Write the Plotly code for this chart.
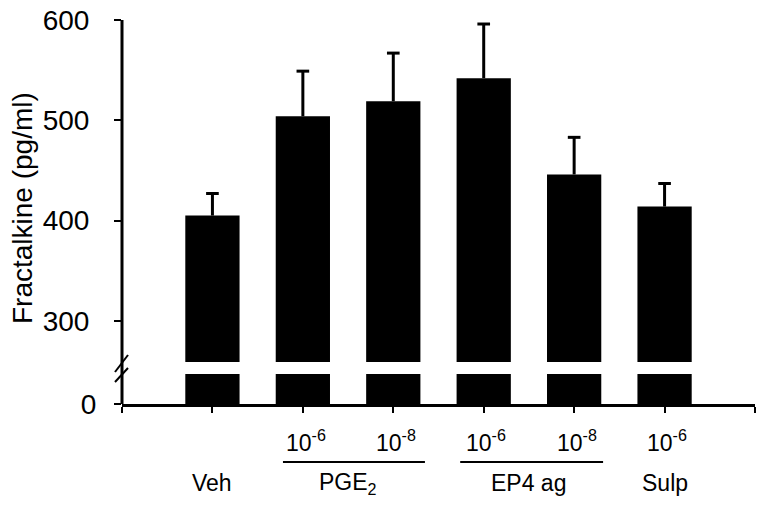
import plotly.graph_objects as go

# ---- data ----
conditions = ["Veh", "PGE2 10-6", "PGE2 10-8", "EP4 ag 10-6", "EP4 ag 10-8", "Sulp 10-6"]
positions = [1, 2, 3, 4, 5, 6]
means = [405, 504, 519, 542, 446, 414]
sem = [22, 45, 48, 54, 37, 23]
dose_labels = ["", "10<sup>-6</sup>", "10<sup>-8</sup>", "10<sup>-6</sup>", "10<sup>-8</sup>", "10<sup>-6</sup>"]
group_labels = ["Veh", "PGE<sub>2</sub>", "EP4 ag", "Sulp"]
group_centers = [1, 2.5, 4.5, 6]
group_lines = [(1.78, 3.35), (3.74, 5.32)]
top_ticks = [300, 400, 500, 600]
bottom_ticks = [0]

FONT = "Liberation Sans, Arial, sans-serif"
BAR_W = 0.6
CAP_HALF = 0.07

fig = go.Figure()
# upper segment bars
fig.add_trace(go.Bar(
    x=positions, y=means, xaxis="x", yaxis="y", width=BAR_W,
    marker=dict(color="black", line=dict(width=0)), showlegend=False,
))
# lower segment bars
fig.add_trace(go.Bar(
    x=positions, y=means, xaxis="x", yaxis="y2", width=BAR_W,
    marker=dict(color="black", line=dict(width=0)), showlegend=False,
))
# upper-only error bars (stem + cap)
ex, ey = [], []
for p, m, s in zip(positions, means, sem):
    ex += [p, p, None, p - CAP_HALF, p + CAP_HALF, None]
    ey += [m, m + s, None, m + s, m + s, None]
fig.add_trace(go.Scatter(x=ex, y=ey, xaxis="x", yaxis="y", mode="lines",
                         line=dict(color="black", width=3), showlegend=False,
                         cliponaxis=False, hoverinfo="skip"))

W, H = 766, 506
L, R, T, B = 122, 11, 20, H - 404
ph = H - T - B
pw = W - L - R

def py2paper(py):  # py in page pixels
    return (404 - py) / ph

def px2paper(px):
    return (px - 122) / pw

fig.update_layout(
    width=W, height=H,
    margin=dict(l=L, r=R, t=T, b=B, autoexpand=False),
    paper_bgcolor="white", plot_bgcolor="white",
    font=dict(family=FONT, color="black"),
    xaxis=dict(range=[0, 7], tickvals=list(range(0, 8)), ticktext=[""] * 8,
               anchor="y2", showline=True, linecolor="black", linewidth=3,
               ticks="outside", ticklen=6, tickwidth=2, tickcolor="black",
               showgrid=False, zeroline=False, automargin=False),
    yaxis=dict(domain=[py2paper(362), 1], range=[259, 600], tickvals=top_ticks,
               anchor="x", showline=False, ticks="outside", ticklen=7, tickwidth=2,
               tickcolor="black", showgrid=False, zeroline=False,
               tickfont=dict(size=28, family=FONT), ticklabelstandoff=19,
               ticklabeloverflow="allow", automargin=False),
    yaxis2=dict(domain=[0, py2paper(374)], range=[0, 30], tickvals=bottom_ticks,
                anchor="x", showline=False, ticks="outside", ticklen=7, tickwidth=2,
                tickcolor="black", showgrid=False, zeroline=False,
                tickfont=dict(size=28, family=FONT), ticklabelstandoff=12,
                ticklabeloverflow="allow", automargin=False),
)

shapes = []
# continuous y axis line
shapes.append(dict(type="line", xref="paper", yref="paper", x0=0, x1=0, y0=0, y1=1,
                   line=dict(color="black", width=3)))
# break marks
for (y_low, y_high) in [(372, 355), (382, 368)]:
    shapes.append(dict(type="line", xref="paper", yref="paper",
                       x0=px2paper(115), x1=px2paper(128),
                       y0=py2paper(y_low), y1=py2paper(y_high),
                       line=dict(color="black", width=2)))
# group underlines
for (a, b) in group_lines:
    shapes.append(dict(type="line", xref="x", yref="paper", x0=a, x1=b,
                       y0=py2paper(462), y1=py2paper(462),
                       line=dict(color="black", width=2)))
fig.update_layout(shapes=shapes)

annotations = []
for pos, lab in zip(positions, dose_labels):
    if lab:
        annotations.append(dict(x=pos + 0.03, y=py2paper(441), xref="x", yref="paper",
                                text=lab, showarrow=False, font=dict(size=23, family=FONT),
                                xanchor="center", yanchor="middle"))
for c, lab in zip(group_centers, group_labels):
    annotations.append(dict(x=c, y=py2paper(483), xref="x", yref="paper",
                            text=lab, showarrow=False, font=dict(size=23, family=FONT),
                            xanchor="center", yanchor="middle"))
annotations.append(dict(x=px2paper(22), y=py2paper(208), xref="paper", yref="paper",
                        text="Fractalkine (pg/ml)", textangle=-90, showarrow=False,
                        font=dict(size=28, family=FONT), xanchor="center", yanchor="middle"))
fig.update_layout(annotations=annotations)

fig.write_html("out.html", config={"displayModeBar": False},
               post_script="document.body.style.margin='0';document.body.style.overflow='hidden';")
